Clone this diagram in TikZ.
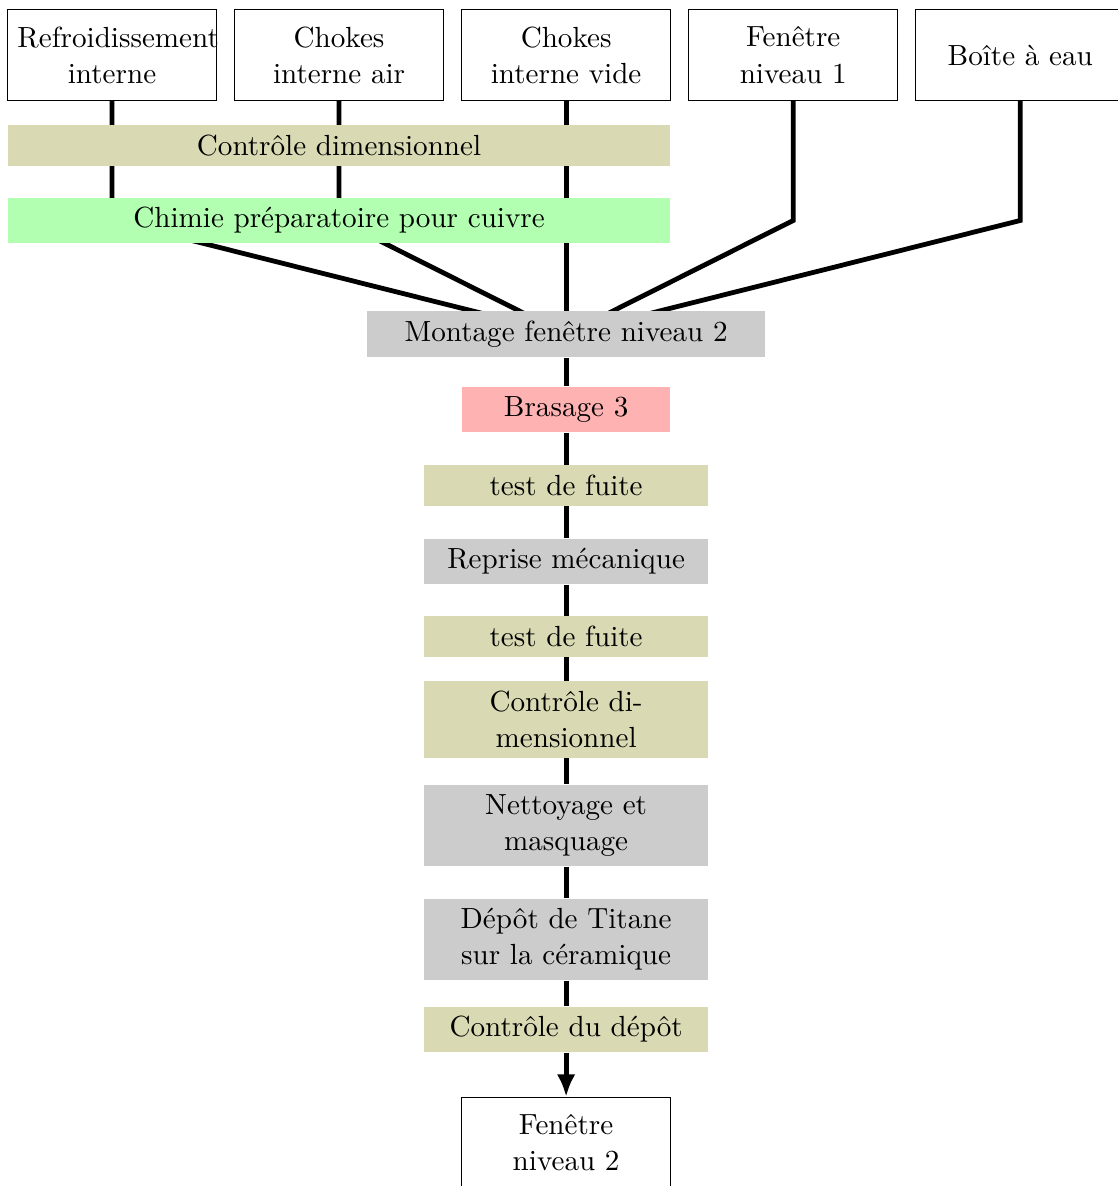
\documentclass[11pt,tikz,border=0pt]{standalone}
\usepackage{amsmath,amssymb}
\usepackage{tikz}
\usetikzlibrary{arrows.meta,shapes,positioning,backgrounds}
\definecolor{ctrlolive}{RGB}{217,217,179}

\tikzset{
  piece/.style={draw, fill=white, text width=2.5cm, align=center, minimum height=1.2cm},
  etape/.style={text width=3.5cm, align=center},
  controle/.style={etape, fill=ctrlolive},
  usinage/.style={etape, fill=gray!40},
  flux/.style={line width=1.8pt},
}

\begin{document}
\begin{tikzpicture}
  \useasboundingbox (0,0) rectangle (14.77,-15.67);
  \clip (0,0) rectangle (14.77,-15.67);
  % pieces de depart
  \node[piece] (refroid) at (1.48,-0.727) {Refroidissement\\interne};
  \node[piece] (chokair) at (4.48,-0.727) {Chokes\\interne air};
  \node[piece] (chokvide) at (7.48,-0.727) {Chokes\\interne vide};
  \node[piece] (fen1) at (10.48,-0.727) {Fenêtre\\niveau 1};
  \node[piece] (boite) at (13.48,-0.727) {Boîte à eau};
  % etapes communes
  \node[controle, text width=8.5cm] (dimA) at (4.48,-1.922) {Contrôle dimensionnel};
  \node[etape, text width=8.5cm, fill=green!30] (chimie) at (4.48,-2.913) {Chimie préparatoire pour cuivre};
  \node[usinage, text width=5cm] (montage) at (7.48,-4.419) {Montage fenêtre niveau 2};
  \node[etape, text width=2.5cm, fill=red!30] (brasage) at (7.48,-5.41) {Brasage 3};
  \node[controle] (fuiteA) at (7.48,-6.413) {test de fuite};
  \node[usinage] (reprise) at (7.48,-7.417) {Reprise mécanique};
  \node[controle] (fuiteB) at (7.48,-8.408) {test de fuite};
  \node[controle] (dimB) at (7.48,-9.505) {Contrôle di-\\mensionnel};
  \node[usinage] (nettoyage) at (7.48,-10.905) {Nettoyage et\\masquage};
  \node[usinage] (depot) at (7.48,-12.411) {Dépôt de Titane\\sur la céramique};
  \node[controle] (ctrldepot) at (7.48,-13.6) {Contrôle du dépôt};
  \node[piece] (fen2) at (7.48,-15.1) {Fenêtre\\niveau 2};

  \begin{scope}[on background layer]
    \draw[flux] (refroid) -- (refroid |- chimie) -- (montage.center);
    \draw[flux] (chokair) -- (chokair |- chimie) -- (montage.center);
    \draw[flux] (fen1) -- (fen1 |- chimie) -- (montage.center);
    \draw[flux] (boite) -- (boite |- chimie) -- (montage.center);
    \draw[flux] (chokvide) -- (montage) -- (brasage) -- (fuiteA) -- (reprise)
      -- (fuiteB) -- (dimB) -- (nettoyage) -- (depot) -- (ctrldepot);
    \draw[flux, -{Latex[length=8.5pt, width=7pt]}] (ctrldepot) -- (fen2);
  \end{scope}
\end{tikzpicture}
\end{document}
